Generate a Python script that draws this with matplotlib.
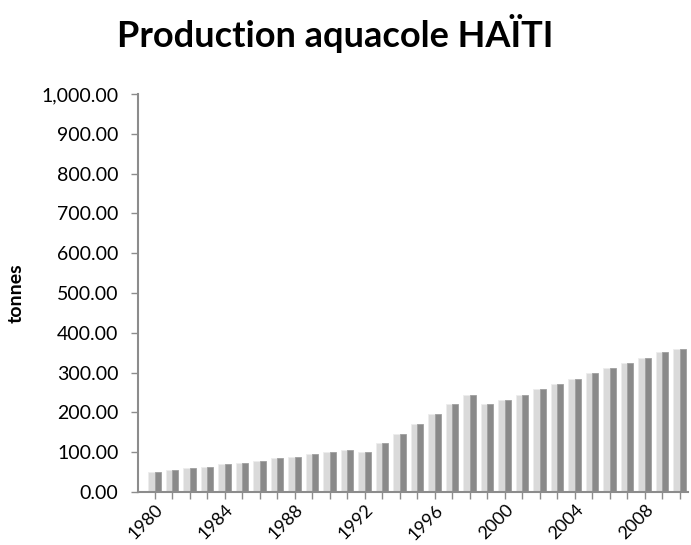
import matplotlib.pyplot as plt
from matplotlib.ticker import FuncFormatter
import numpy as np

plt.rcParams['font.family'] = ['Lato', 'DejaVu Sans']

years = list(range(1980, 2011))
tonnes = [50, 55, 60, 64, 70, 74, 79, 85, 89, 95, 100, 105, 100, 123, 147,
          170, 195, 220, 243, 220, 232, 245, 259, 272, 284, 298, 311, 323,
          337, 351, 360]

x = np.arange(len(years))

fig = plt.figure(figsize=(6.91, 5.45), dpi=100)
ax = fig.add_axes([0.1997, 0.0972, 0.7960, 0.7303])

# two-tone columns: light face on the left, shaded side on the right
ax.bar(x - 0.19, tonnes, width=0.38, color='#dadada', edgecolor='#ececec',
       linewidth=0.6, zorder=2)
ax.bar(x + 0.165, tonnes, width=0.33, color='#8a8a8a', edgecolor='#a0a0a0',
       linewidth=0.6, zorder=2)

ax.set_xlim(-0.97, 30.46)
ax.set_ylim(0, 1000)
ax.set_yticks(np.arange(0, 1001, 100))
ax.yaxis.set_major_formatter(FuncFormatter(lambda v, p: f"{v:,.2f}"))

ax.set_xticks(x)
ax.set_xticklabels([str(y) if (y - 1980) % 4 == 0 else '' for y in years],
                   rotation=45, ha='right', rotation_mode='anchor')

for side in ('top', 'right'):
    ax.spines[side].set_visible(False)
for side in ('left', 'bottom'):
    ax.spines[side].set_color('#8c8c8c')
    ax.spines[side].set_linewidth(1.5)

ax.tick_params(axis='y', colors='#8c8c8c', labelcolor='black', length=5,
               width=1, labelsize=14, pad=9)
ax.tick_params(axis='x', colors='#8c8c8c', labelcolor='black', length=5,
               width=1, labelsize=13, pad=2)

ax.set_ylabel('tonnes', fontsize=14, fontweight='bold', labelpad=12)
fig.suptitle('Production aquacole HAÏTI', x=0.485, y=0.975, fontsize=26,
             fontweight='bold')

fig.savefig('out.png', dpi=100)
